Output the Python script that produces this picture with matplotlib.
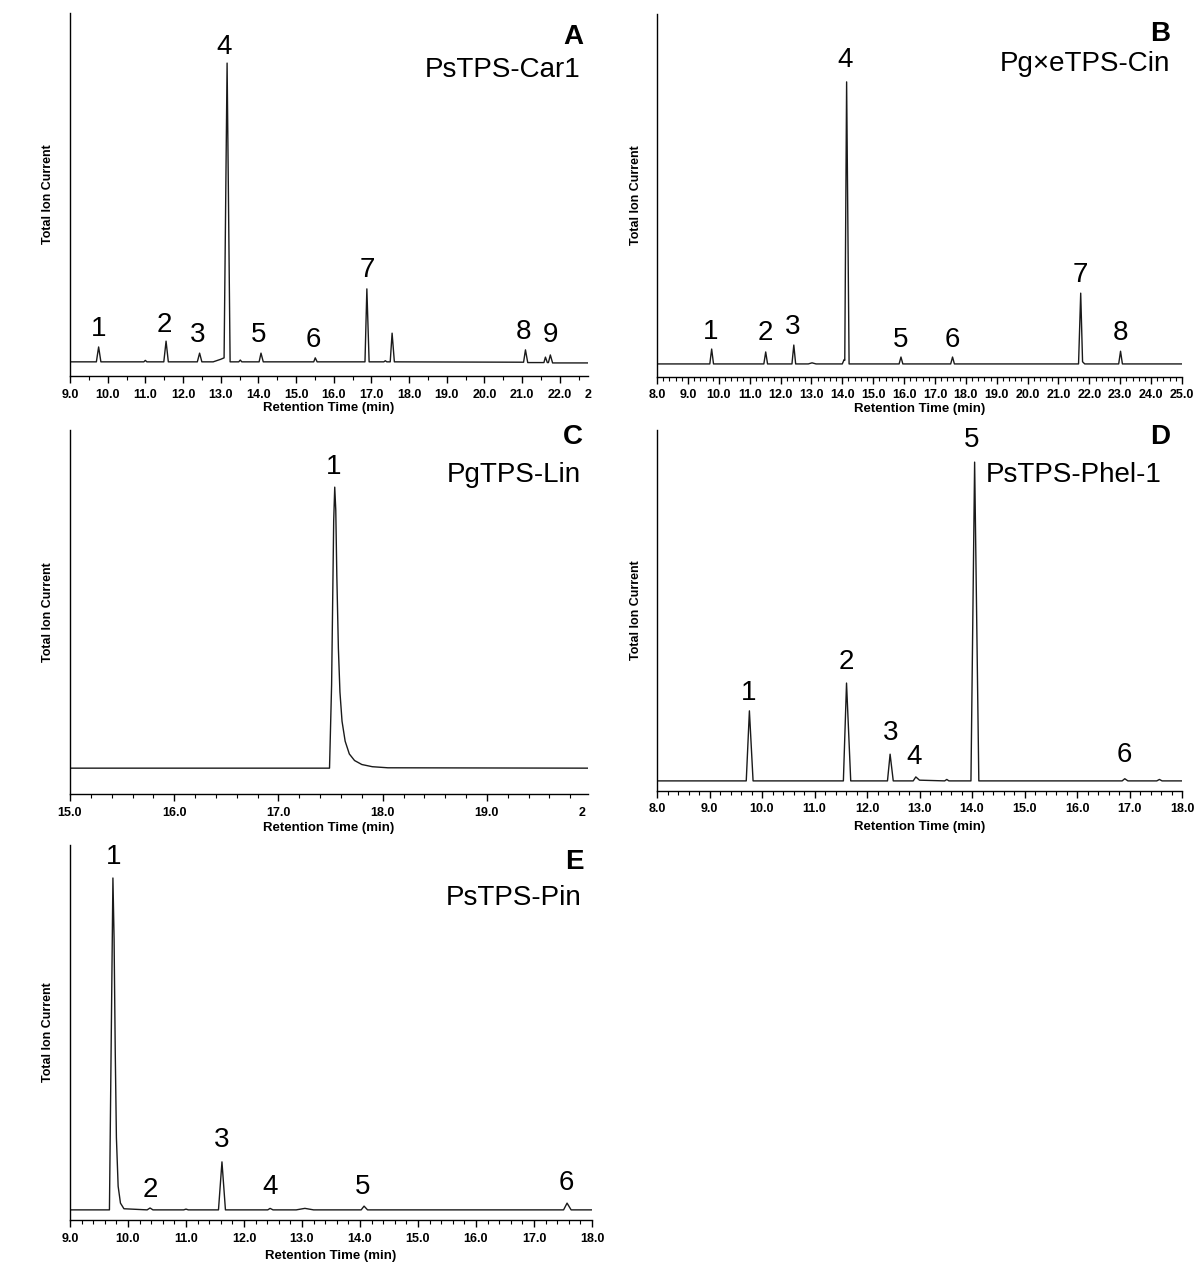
import matplotlib
matplotlib.use("Agg")
import matplotlib.pyplot as plt
from matplotlib.ticker import MultipleLocator, FormatStrFormatter

plt.rcParams['font.family'] = ['Liberation Sans', 'DejaVu Sans']

# ---------------- data (retention time in min, signal in % of axis height) ----------------
t_A = [9.0, 9.70, 9.76, 9.82, 10.96, 11.0, 11.04, 11.49, 11.55, 11.61, 12.38, 12.44, 12.50,
       12.80, 13.00, 13.09, 13.17, 13.25, 13.48, 13.52, 13.56, 14.02, 14.07, 14.13, 15.47,
       15.51, 15.56, 16.83, 16.88, 16.94, 17.33, 17.37, 17.41, 17.50, 17.55, 17.61, 21.04,
       21.09, 21.15, 21.58, 21.62, 21.67, 21.70, 21.75, 21.81, 22.75]
s_A = [3.9, 3.9, 8.0, 3.9, 3.9, 4.3, 3.9, 3.9, 9.6, 3.9, 3.9, 6.3, 3.9,
       3.9, 4.6, 5.0, 86.2, 3.9, 3.9, 4.4, 3.9, 3.9, 6.3, 3.9, 3.9,
       5.0, 3.9, 3.9, 24.0, 3.9, 3.9, 4.2, 3.9, 3.9, 11.8, 3.9, 3.8,
       7.2, 3.7, 3.7, 5.2, 3.7, 3.7, 5.8, 3.6, 3.6]
lab_A = ["1", "2", "3", "4", "5", "6", "7", "8", "9"]
lx_A = [9.75, 11.5, 12.4, 13.08, 14.0, 15.45, 16.88, 21.05, 21.75]
ly_A = [12.9, 14.0, 11.3, 90.6, 11.3, 9.9, 29.2, 12.1, 11.3]

t_B = [8.0, 9.71, 9.77, 9.83, 11.46, 11.52, 11.58, 12.37, 12.43, 12.49, 12.90, 13.02, 13.15,
       14.00, 14.06, 14.08, 14.14, 14.22, 15.84, 15.90, 15.96, 17.51, 17.57, 17.63, 21.65,
       21.72, 21.78, 21.85, 22.95, 23.01, 23.07, 25.0]
s_B = [3.6, 3.6, 7.7, 3.6, 3.6, 6.9, 3.6, 3.6, 8.8, 3.6, 3.6, 3.9, 3.6,
       3.6, 4.8, 4.6, 81.3, 3.6, 3.6, 5.5, 3.6, 3.6, 5.5, 3.6, 3.6,
       23.1, 4.2, 3.6, 3.6, 7.1, 3.6, 3.6]
lab_B = ["1", "2", "3", "4", "5", "6", "7", "8"]
lx_B = [9.75, 11.5, 12.4, 14.1, 15.9, 17.55, 21.72, 23.0]
ly_B = [12.4, 12.1, 13.8, 87.3, 10.2, 10.2, 28.1, 12.1]

t_C = [15.0, 17.49, 17.51, 17.53, 17.54, 17.55, 17.56, 17.575, 17.59, 17.61, 17.64, 17.68,
       17.73, 17.80, 17.90, 18.05, 19.97]
s_C = [7.1, 7.1, 30.0, 75.0, 84.3, 78.0, 60.0, 40.0, 28.0, 20.0, 14.5, 11.0,
       9.2, 8.1, 7.5, 7.2, 7.1]
lab_C = ["1"]
lx_C = [17.53]
ly_C = [89.8]

t_D = [8.0, 9.70, 9.76, 9.83, 11.55, 11.61, 11.69, 12.39, 12.44, 12.50, 12.88, 12.93, 13.00,
       13.48, 13.52, 13.56, 13.98, 14.05, 14.13, 16.86, 16.91, 16.97, 17.52, 17.57, 17.62, 18.0]
s_D = [2.8, 2.8, 22.2, 2.8, 2.8, 29.9, 2.8, 2.8, 10.2, 2.8, 2.8, 3.9, 3.0,
       2.8, 3.2, 2.8, 2.8, 91.1, 2.8, 2.8, 3.4, 2.8, 2.8, 3.2, 2.8, 2.8]
lab_D = ["1", "2", "3", "4", "5", "6"]
lx_D = [9.75, 11.6, 12.45, 12.9, 14.0, 16.9]
ly_D = [27.1, 35.7, 16.1, 9.4, 97.2, 10.0]

t_E = [9.0, 9.68, 9.74, 9.76, 9.78, 9.80, 9.83, 9.87, 9.93, 10.33, 10.38, 10.43, 10.96,
       11.0, 11.04, 11.56, 11.62, 11.68, 12.41, 12.45, 12.50, 12.90, 13.05, 13.20, 14.02,
       14.07, 14.13, 17.51, 17.57, 17.64, 18.0]
s_E = [2.7, 2.7, 91.2, 75.0, 45.0, 22.0, 9.0, 4.5, 3.0, 2.7, 3.2, 2.7, 2.7,
       2.9, 2.7, 2.7, 15.5, 2.7, 2.7, 3.1, 2.7, 2.7, 3.1, 2.7, 2.7,
       3.7, 2.7, 2.7, 4.5, 2.7, 2.7]
lab_E = ["1", "2", "3", "4", "5", "6"]
lx_E = [9.75, 10.38, 11.62, 12.45, 14.05, 17.55]
ly_E = [96.8, 8.0, 21.3, 8.8, 8.8, 9.9]

letters = ["A", "B", "C", "D", "E"]
names = ["PsTPS-Car1", "Pg×eTPS-Cin", "PgTPS-Lin", "PsTPS-Phel-1", "PsTPS-Pin"]
xlims = [(9.0, 22.75), (8.0, 25.0), (15.0, 19.97), (8.0, 18.0), (9.0, 18.0)]
cut_tick = [23.0, None, 20.0, None, None]
minor_steps = [0.5, 0.2, 0.2, 0.2, 0.2]

# ---------------- layout (pixels in a 1200x1267 canvas) ----------------
W, H = 1200, 1267
boxes = [(70, 588, 13, 376), (657, 1182, 14, 377), (70, 588, 430, 794),
         (657, 1182, 430, 791), (70, 592, 845, 1220)]
title_pos = [  # (x_letter, y_letter, x_name, y_name) in axes fraction
    (0.990, 0.934, 0.986, 0.843),
    (0.977, 0.945, 0.977, 0.862),
    (0.990, 0.981, 0.986, 0.876),
    (0.977, 0.981, 0.962, 0.875),
    (0.983, 0.955, 0.979, 0.859),
]
ylab_x = [54, 642, 54, 642, 54]
xlab_pad = [1, 1, 2.5, 4, 4]

fig = plt.figure(figsize=(W / 100, H / 100), dpi=100)

traces = [(t_A, s_A), (t_B, s_B), (t_C, s_C), (t_D, s_D), (t_E, s_E)]
labels = [(lab_A, lx_A, ly_A), (lab_B, lx_B, ly_B), (lab_C, lx_C, ly_C),
          (lab_D, lx_D, ly_D), (lab_E, lx_E, ly_E)]

for i, (l, r, t, b) in enumerate(boxes):
    ax = fig.add_axes([l / W, 1 - b / H, (r - l) / W, (b - t) / H])
    tt, ss = traces[i]
    ax.plot(tt, ss, color='#1a1a1a', lw=1.0)
    ax.set_xlim(*xlims[i])
    ax.set_ylim(0, 100)
    for s in ('top', 'right'):
        ax.spines[s].set_visible(False)
    ax.spines['left'].set_linewidth(1.0)
    ax.spines['bottom'].set_linewidth(1.0)
    ax.set_yticks([])
    ax.xaxis.set_major_locator(MultipleLocator(1.0))
    ax.xaxis.set_minor_locator(MultipleLocator(minor_steps[i]))
    ax.xaxis.set_major_formatter(FormatStrFormatter('%.1f'))
    ax.tick_params(axis='x', which='major', length=5, width=1.0, pad=4,
                   labelsize=9)
    ax.tick_params(axis='x', which='minor', length=3, width=0.8)
    for lb in ax.get_xticklabels():
        lb.set_fontweight('bold')
    ax.set_xlabel('Retention Time (min)', fontsize=9.5, fontweight='bold',
                  labelpad=xlab_pad[i])
    ax.set_ylabel('Total Ion Current', fontsize=9, fontweight='bold')
    ax.yaxis.set_label_coords((ylab_x[i] - l) / (r - l), 0.5)

    if cut_tick[i] is not None:
        ax.annotate('2', xy=(cut_tick[i], 0), xycoords=('data', 'axes fraction'),
                    xytext=(-9, -9), textcoords='offset points',
                    ha='left', va='top', fontsize=9, fontweight='bold',
                    annotation_clip=False)

    labs, lxs, lys = labels[i]
    for txt, x, y in zip(labs, lxs, lys):
        ax.text(x, y, txt, ha='center', va='center', fontsize=20, clip_on=False)

    xl, yl, xn, yn = title_pos[i]
    ax.text(xl, yl, letters[i], transform=ax.transAxes, ha='right', va='center',
            fontsize=20, fontweight='bold')
    ax.text(xn, yn, names[i], transform=ax.transAxes, ha='right', va='center',
            fontsize=20)

fig.savefig('out.png', dpi=100)
